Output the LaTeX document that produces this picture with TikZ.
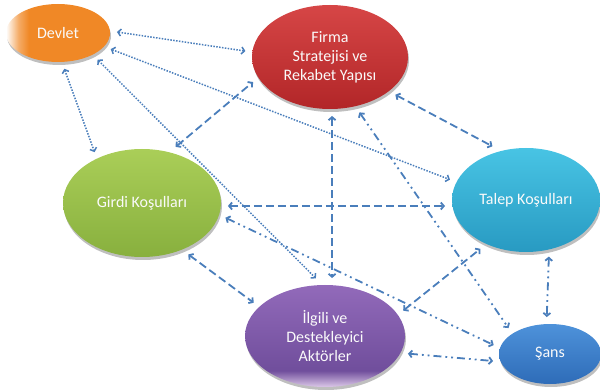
\documentclass[tikz,border=0pt]{standalone}
\usepackage{fontspec}
\setmainfont{Carlito}
\usetikzlibrary{shapes.geometric,arrows.meta,shadows,calc}
\definecolor{lc}{RGB}{74,126,187}
\definecolor{orB}{RGB}{240,136,38}
\definecolor{reA}{RGB}{214,70,70}
\definecolor{reB}{RGB}{178,38,40}
\definecolor{grA}{RGB}{170,206,88}
\definecolor{grB}{RGB}{136,176,62}
\definecolor{cyA}{RGB}{72,196,228}
\definecolor{cyB}{RGB}{40,154,194}
\definecolor{puA}{RGB}{146,106,186}
\definecolor{puB}{RGB}{112,78,156}
\definecolor{puL}{RGB}{220,200,232}
\definecolor{blA}{RGB}{78,146,218}
\definecolor{blB}{RGB}{46,108,184}
\pgfdeclarehorizontalshading{devletshade}{100bp}{color(0bp)=(white); color(25bp)=(white); color(28bp)=(orB!35!white); color(31bp)=(orB!70!white); color(36bp)=(orB); color(100bp)=(orB)}
\pgfdeclareverticalshading{ilgilishade}{100bp}{color(0bp)=(puL); color(25bp)=(puL); color(33bp)=(puB); color(75bp)=(puA); color(100bp)=(puA)}
\tikzset{
  blob/.style={ellipse, inner sep=0pt, outer sep=7pt, text=white!96!gray,
    align=center, font=\fontsize{16}{19}\selectfont,
    drop shadow={shadow xshift=1pt, shadow yshift=-3pt, opacity=0.25, fill=black}},
  conn/.style={draw=lc, {Straight Barb[length=3pt,width=7pt]}-{Straight Barb[length=3pt,width=7pt]}},
  dotline/.style={conn, line width=1.5pt, dash pattern=on 1.5pt off 1.4pt},
  dashline/.style={conn, line width=1.8pt, dash pattern=on 8pt off 4pt},
  ddline/.style={conn, line width=1.8pt, dash pattern=on 8pt off 4pt on 1.8pt off 4pt on 1.8pt off 4pt},
}
\begin{document}
\begin{tikzpicture}[x=1pt,y=-1pt]
\useasboundingbox (0,0) rectangle (600,390);
\node[blob, shading=devletshade, minimum width=104pt, minimum height=58pt] (D) at (58,33) {Devlet};
\node[blob, top color=reA, bottom color=reB, minimum width=156pt, minimum height=104pt] (F) at (330,57) {Firma\\Stratejisi ve\\Rekabet Yapısı};
\node[blob, top color=grA, bottom color=grB, minimum width=158pt, minimum height=108pt] (G) at (142,203) {Girdi Koşulları};
\node[blob, top color=cyA, bottom color=cyB, minimum width=148pt, minimum height=104pt] (T) at (526,200) {Talep Koşulları};
\node[blob, shading=ilgilishade, minimum width=160pt, minimum height=102pt] (I) at (325,336) {İlgili ve\\Destekleyici\\Aktörler};
\node[blob, top color=blA, bottom color=blB, minimum width=102pt, minimum height=60pt] (S) at (550,354) {Şans};

\draw[dotline] (D.1) -- (F.176);
\draw[dotline] (D.343) -- (T.165);
\draw[dotline] (D.280) -- (G.133);
\draw[dotline] (D.326) -- (I.99);
\draw[dashline] (G.59) -- (F.198);
\draw[dashline] (F.330) -- (T.122);
\draw[dashline] (F.272) -- (F.272 |- I.north);
\draw[ddline] (F.298) -- (S.148);
\draw[dashline] (G.358) -- (G.358 -| T.west);
\draw[ddline] (G.350) -- (S.171);
\draw[dashline] (G.312) -- (I.155);
\draw[dashline] (I.18) -- (T.227);
\draw[ddline] (I.348) -- (S.187);
\draw[ddline] (T.292) -- (S.95);
\end{tikzpicture}
\end{document}
